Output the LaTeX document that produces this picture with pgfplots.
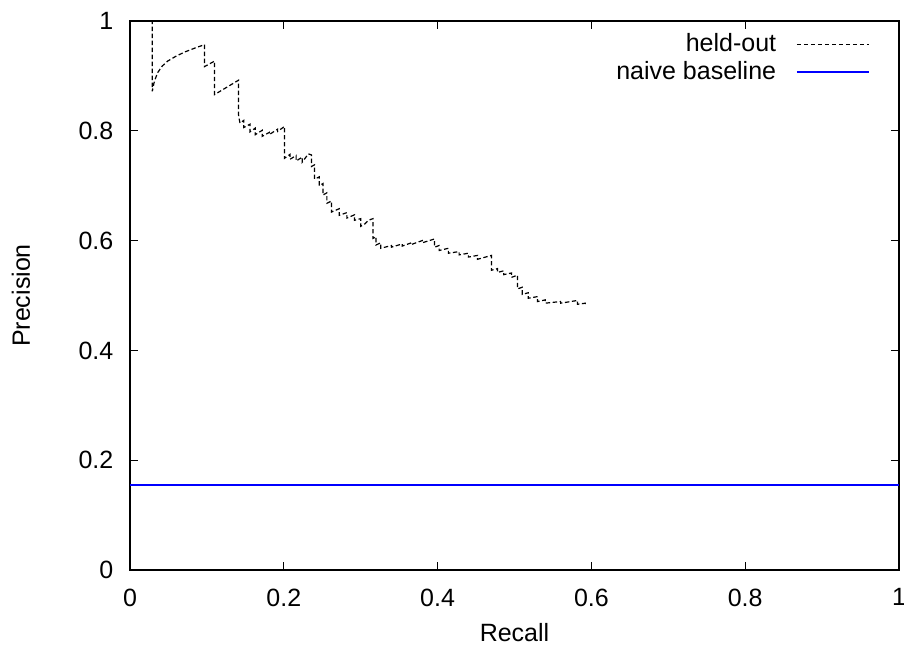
\documentclass[border=0pt]{standalone}
\usepackage{fontspec}
\setmainfont{Liberation Sans}
\usepackage{pgfplots}
\pgfplotsset{compat=1.18}

\pgfplotstableread{
r p
0.000 1.000
0.029 1.000
0.029 0.872
0.031 0.886
0.033 0.895
0.036 0.906
0.042 0.918
0.049 0.927
0.060 0.936
0.072 0.944
0.085 0.951
0.097 0.957
0.097 0.917
0.110 0.927
0.110 0.866
0.141 0.892
0.141 0.830
0.143 0.814
0.148 0.819
0.148 0.806
0.156 0.812
0.156 0.798
0.163 0.805
0.163 0.793
0.172 0.801
0.172 0.790
0.181 0.797
0.181 0.793
0.192 0.803
0.192 0.799
0.201 0.808
0.201 0.750
0.208 0.757
0.208 0.748
0.216 0.755
0.216 0.745
0.224 0.752
0.224 0.743
0.232 0.758
0.236 0.756
0.236 0.735
0.240 0.738
0.240 0.712
0.246 0.716
0.246 0.700
0.251 0.704
0.251 0.683
0.256 0.687
0.256 0.668
0.262 0.672
0.262 0.652
0.272 0.658
0.272 0.646
0.282 0.651
0.282 0.641
0.292 0.647
0.292 0.637
0.300 0.640
0.300 0.626
0.305 0.630
0.310 0.637
0.316 0.640
0.316 0.604
0.320 0.607
0.320 0.592
0.326 0.596
0.326 0.586
0.340 0.591
0.340 0.588
0.354 0.594
0.354 0.590
0.366 0.596
0.366 0.593
0.380 0.600
0.380 0.596
0.396 0.603
0.396 0.588
0.402 0.591
0.402 0.582
0.414 0.586
0.414 0.577
0.428 0.580
0.428 0.574
0.440 0.577
0.440 0.570
0.452 0.573
0.452 0.566
0.470 0.573
0.470 0.546
0.478 0.549
0.478 0.542
0.486 0.545
0.486 0.538
0.496 0.541
0.496 0.533
0.504 0.537
0.504 0.512
0.510 0.515
0.510 0.502
0.518 0.505
0.518 0.495
0.530 0.498
0.530 0.489
0.540 0.492
0.540 0.486
0.560 0.489
0.560 0.486
0.582 0.491
0.582 0.484
0.592 0.486
0.592 0.480
}\heldout

\pgfplotstableread{
r p
0 0.155
1 0.155
}\baseline

\begin{document}
\fontsize{12.5}{15}\selectfont
\begin{tikzpicture}
\begin{axis}[
  scale only axis,
  width=384.5pt, height=274.5pt,
  xmin=0, xmax=1, ymin=0, ymax=1,
  xtick={0,0.2,0.4,0.6,0.8,1},
  ytick={0,0.2,0.4,0.6,0.8,1},
  tick pos=both, tick align=inside,
  major tick length=4pt,
  axis line style={line width=0.6pt},
  every tick/.style={black, line width=0.5pt},
  /pgf/number format/assume math mode=true,
  ticklabel style={font=\fontsize{12.5}{15}\selectfont},
  xticklabel style={yshift=-5pt},
  yticklabel style={xshift=-4pt},
  label style={font=\fontsize{12.5}{15}\selectfont},
  xlabel={Recall}, ylabel={Precision},
  every axis x label/.style={at={(rel axis cs:0.5,0)}, yshift=-31.5pt, anchor=center},
  every axis y label/.style={at={(rel axis cs:0,0.5)}, xshift=-54.5pt, rotate=90, anchor=center},
  legend style={draw=none, fill=none, at={(rel axis cs:0.97,0.993)}, anchor=north east,
    row sep=-1pt, font=\fontsize{12.5}{15}\selectfont},
  legend cell align=right,
  legend plot pos=right,
  legend image code/.code={\path (0pt,0pt); \draw[#1] (8pt,0pt) -- (44pt,0pt);},
]
\addplot[black, line width=0.6pt, dash pattern=on 2.2pt off 1.3pt] table[x=r,y=p] {\heldout};
\addlegendentry{held-out}
\addplot[blue, line width=0.7pt] table[x=r,y=p] {\baseline};
\addlegendentry{naive baseline}
\coordinate (bl) at (rel axis cs:0,0);
\coordinate (tr) at (rel axis cs:1,1);
\end{axis}
\pgfresetboundingbox
\path ([shift={(-65pt,-39pt)}]bl) rectangle ([shift={(2.5pt,10.5pt)}]tr);
\end{tikzpicture}
\end{document}
